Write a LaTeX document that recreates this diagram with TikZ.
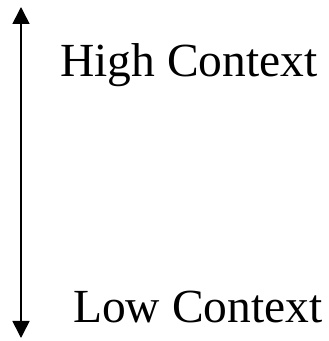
\documentclass[tikz,border=0pt]{standalone}
\usepackage{fontspec}
\setmainfont{Liberation Serif}
\usetikzlibrary{arrows.meta}
\begin{document}
\begin{tikzpicture}[x=1pt,y=1pt,
  lbl/.style={anchor=base west,inner sep=0pt,font=\fontsize{47.5}{52}\selectfont},
  axis/.style={line width=1.6pt,{Triangle[length=17pt,width=17pt]}-{Triangle[length=17pt,width=17pt]}}]
\useasboundingbox (0,0) rectangle (329,341);
\coordinate (top) at (21,334);
\coordinate (bot) at (21,3);
\draw[axis] (bot) -- (top);
\node[lbl] (high) at (60,264) {High Context};
\node[lbl] (low) at (73,19) {Low Context};
\end{tikzpicture}
\end{document}
